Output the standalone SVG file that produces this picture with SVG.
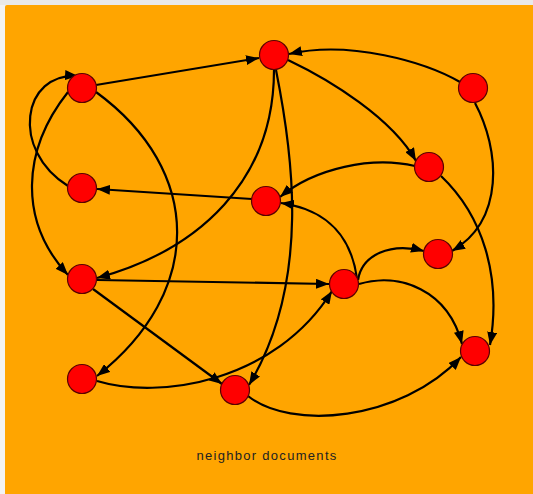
<svg xmlns="http://www.w3.org/2000/svg" width="533" height="494" viewBox="0 0 533 494">
  <style>
    .link { fill: none; stroke: #000; stroke-width: 2.2; marker-end: url(#arrow); }
    .node { fill: #ff0000; stroke: #5a0000; stroke-width: 1.2; }
    .label { font-family: "Liberation Sans", Arial, sans-serif; font-size: 13px; letter-spacing: 1.3px; fill: #222; text-anchor: middle; }
  </style>
  <defs>
    <marker id="arrow" viewBox="0 -5 13 10" refX="13" refY="0" markerWidth="13" markerHeight="10" markerUnits="userSpaceOnUse" orient="auto">
      <path d="M0,-5L13,0L0,5Z" fill="#000"/>
    </marker>
  </defs>
  <rect x="0" y="0" width="533" height="494" fill="#f3f3f3"/>
  <rect x="0" y="0" width="533" height="5" fill="#e9e9e9"/>
  <rect x="5" y="5" width="540" height="500" rx="2" fill="#ffa500"/>

  <g id="connectors">
    <path class="link" d="M96,85 L259,58"/>
    <path class="link" d="M68,186 C10,150 22,72 78,76"/>
    <path class="link" d="M68,92 C22,150 18,221 68,275"/>
    <path class="link" d="M96,92 C204,171 204,292 97,376"/>
    <path class="link" d="M274,70 C274,180 200,250 97,278"/>
    <path class="link" d="M276,70 C292,150 312,280 249,385"/>
    <path class="link" d="M288,60 C330,80 392,118 416,161"/>
    <path class="link" d="M460,82 C425,62 350,40 289,54"/>
    <path class="link" d="M475,103 C500,150 505,220 452,251"/>
    <path class="link" d="M415,166 C372,156 315,168 280,197"/>
    <path class="link" d="M441,176 C482,215 502,275 490,345"/>
    <path class="link" d="M252,199 L97,189"/>
    <path class="link" d="M357,279 C352,240 330,210 281,203"/>
    <path class="link" d="M358,280 C362,255 390,242 424,251"/>
    <path class="link" d="M359,284 C400,272 448,290 462,344"/>
    <path class="link" d="M97,280 L329,284"/>
    <path class="link" d="M93,289 L222,384"/>
    <path class="link" d="M97,381 C160,400 275,382 332,291"/>
    <path class="link" d="M248,396 C290,430 400,422 461,357"/>
  </g>

  <g id="node-a"><circle class="node" cx="82" cy="88" r="14.5"/></g>
  <g id="node-b"><circle class="node" cx="274" cy="55" r="14.5"/></g>
  <g id="node-c"><circle class="node" cx="473" cy="88" r="14.5"/></g>
  <g id="node-d"><circle class="node" cx="429" cy="167" r="14.5"/></g>
  <g id="node-e"><circle class="node" cx="82" cy="188" r="14.5"/></g>
  <g id="node-f"><circle class="node" cx="266" cy="201" r="14.5"/></g>
  <g id="node-g"><circle class="node" cx="438" cy="254" r="14.5"/></g>
  <g id="node-h"><circle class="node" cx="82" cy="279" r="14.5"/></g>
  <g id="node-i"><circle class="node" cx="344" cy="284" r="14.5"/></g>
  <g id="node-j"><circle class="node" cx="475" cy="351" r="14.5"/></g>
  <g id="node-k"><circle class="node" cx="82" cy="379" r="14.5"/></g>
  <g id="node-l"><circle class="node" cx="235" cy="390" r="14.5"/></g>

  <text class="label" x="267" y="460">neighbor documents</text>
</svg>
